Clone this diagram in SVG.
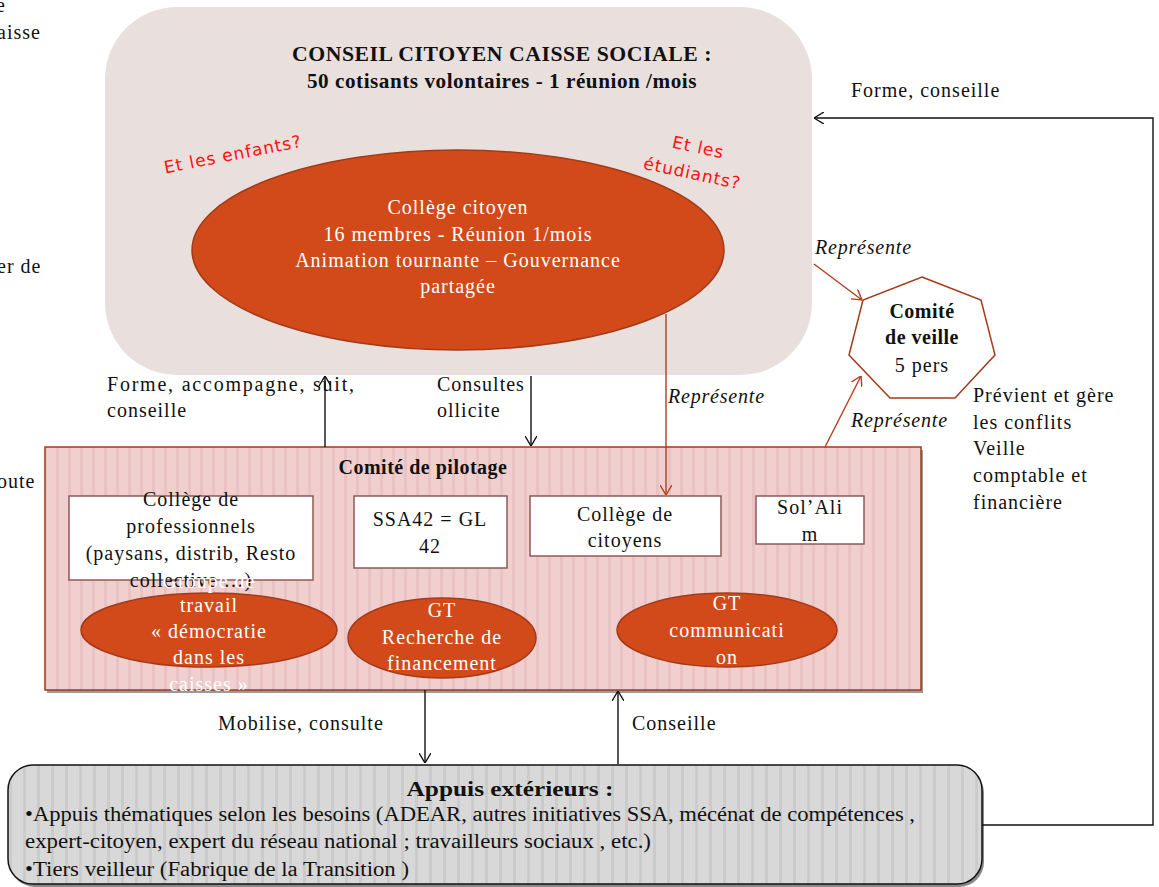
<svg xmlns="http://www.w3.org/2000/svg" width="1159" height="887" viewBox="0 0 1159 887">
<style>
text{font-family:"Liberation Serif","Times New Roman",serif;font-size:20px;letter-spacing:1px;fill:#111}
.b{font-weight:bold;letter-spacing:0.5px}
.i{font-style:italic;letter-spacing:0.8px}
.c{text-anchor:middle}
.w{fill:#fff}
.n{letter-spacing:0}
.hand{font-family:"DejaVu Sans","Comic Sans MS",sans-serif;font-size:17px;fill:#ff1010;letter-spacing:1px}
.box{fill:#fff;stroke:#8e5a55;stroke-width:1.5}
.ell{fill:#d24a19;stroke:#a33a1a;stroke-width:1.5}
.blk{fill:none;stroke:#111;stroke-width:1.4}
.red{fill:none;stroke:#b23e1c;stroke-width:1.4}
</style>
<defs>
<pattern id="pinkStripe" patternUnits="userSpaceOnUse" width="12" height="10">
<rect width="12" height="10" fill="#f2cfcf"/>
<rect x="8" width="3" height="10" fill="#e9c3c3"/>
</pattern>
<pattern id="grayStripe" patternUnits="userSpaceOnUse" width="14" height="10">
<rect width="14" height="10" fill="#d8d8d8"/>
<rect x="9" width="3" height="10" fill="#cbcbcb"/>
</pattern>
<marker id="arrB" viewBox="0 0 10 12" refX="10" refY="6" markerWidth="10" markerHeight="12" markerUnits="userSpaceOnUse" orient="auto">
<path d="M0,0 L10,6 L0,12" fill="none" stroke="#111" stroke-width="1.4"/>
</marker>
<marker id="arrR" viewBox="0 0 10 12" refX="10" refY="6" markerWidth="10" markerHeight="12" markerUnits="userSpaceOnUse" orient="auto">
<path d="M0,0 L10,6 L0,12" fill="none" stroke="#b23e1c" stroke-width="1.4"/>
</marker>
</defs>
<rect width="1159" height="887" fill="#fff"/>

<g id="edge-texts">
<text x="-4" y="12">e</text>
<text x="-3" y="39">aisse</text>
<text x="-3" y="273">er de</text>
<text x="-3" y="488">oute</text>
</g>

<g id="conseil">
<rect x="105" y="7" width="707" height="368" rx="72" ry="72" fill="#e9e0dd"/>
<text class="b c" x="502" y="61" textLength="420" lengthAdjust="spacingAndGlyphs">CONSEIL CITOYEN CAISSE SOCIALE :</text>
<text class="b c" x="502" y="88" textLength="390" lengthAdjust="spacingAndGlyphs">50 cotisants volontaires - 1 réunion /mois</text>
<text class="hand" transform="translate(234,160) rotate(-11)" text-anchor="middle">Et les enfants?</text>
<text class="hand" transform="translate(697,153) rotate(12)" text-anchor="middle">Et les</text>
<text class="hand" transform="translate(691,179) rotate(12)" text-anchor="middle">étudiants?</text>
</g>

<g id="college-citoyen">
<ellipse class="ell" cx="458" cy="250" rx="266" ry="100"/>
<text class="c w" x="458" y="214">Collège citoyen</text>
<text class="c w" x="458" y="241">16 membres  - Réunion 1/mois</text>
<text class="c w" x="458" y="267">Animation tournante – Gouvernance</text>
<text class="c w" x="458" y="293">partagée</text>
</g>

<g id="comite-veille">
<polygon points="922,277 981,300 995,355 955,398 890,398 849,355 863,300" fill="#fff" stroke="#a33a1a" stroke-width="1.5"/>
<text class="b c" x="922" y="318">Comité</text>
<text class="b c" x="922" y="344">de veille</text>
<text class="c" x="922" y="372">5 pers</text>
<text x="973" y="402">Prévient et gère</text>
<text x="973" y="429">les conflits</text>
<text x="973" y="455">Veille</text>
<text x="973" y="482">comptable et</text>
<text x="973" y="509">financière</text>
</g>

<g id="pilotage">
<rect x="47" y="450" width="876" height="243" fill="#9a9a9a"/>
<rect x="45" y="447" width="876" height="243" fill="url(#pinkStripe)" stroke="#a33a1a" stroke-width="1.5"/>
<text class="b c" x="423" y="474">Comité de pilotage</text>
</g>

<g id="college-pro">
<rect class="box" x="69" y="496" width="244" height="84"/>
<text class="c" x="191" y="506">Collège de</text>
<text class="c" x="191" y="533">professionnels</text>
<text class="c" x="191" y="560">(paysans, distrib, Resto</text>
<text class="c" x="191" y="587">collective …)</text>
</g>

<g id="ssa42">
<rect class="box" x="354" y="496" width="153" height="72"/>
<text class="c" x="430" y="526">SSA42 = GL</text>
<text class="c" x="430" y="553">42</text>
</g>

<g id="college-citoyens">
<rect class="box" x="530" y="496" width="191" height="60"/>
<text class="c" x="625" y="521">Collège de</text>
<text class="c" x="625" y="547">citoyens</text>
</g>

<g id="solalim">
<rect class="box" x="756" y="496" width="108" height="48"/>
<text class="c" x="810" y="514">Sol’Ali</text>
<text class="c" x="810" y="541">m</text>
</g>

<g id="gt-democratie">
<ellipse class="ell" cx="209" cy="630" rx="128" ry="37"/>
<text class="c w" x="209" y="588">Groupe de</text>
<text class="c w" x="209" y="612">travail</text>
<text class="c w" x="209" y="638">« démocratie</text>
<text class="c w" x="209" y="664">dans les</text>
<text class="c w" x="209" y="691">caisses »</text>
</g>

<g id="gt-financement">
<ellipse class="ell" cx="442" cy="638" rx="94" ry="40"/>
<text class="c w" x="442" y="617">GT</text>
<text class="c w" x="442" y="644">Recherche de</text>
<text class="c w" x="442" y="670">financement</text>
</g>

<g id="gt-communication">
<ellipse class="ell" cx="727" cy="630" rx="110" ry="37"/>
<text class="c w" x="727" y="610">GT</text>
<text class="c w" x="727" y="637">communicati</text>
<text class="c w" x="727" y="664">on</text>
</g>

<g id="appuis">
<rect x="10" y="768" width="974" height="119" rx="25" ry="25" fill="#8a8a8a"/>
<rect x="8" y="765" width="974" height="119" rx="25" ry="25" fill="url(#grayStripe)" stroke="#111" stroke-width="1.5"/>
<text class="b c n" x="510" y="796" textLength="207" lengthAdjust="spacingAndGlyphs">Appuis extérieurs :</text>
<text class="n" x="25" y="821" textLength="890" lengthAdjust="spacingAndGlyphs">•Appuis thématiques selon les besoins (ADEAR, autres initiatives SSA,  mécénat de compétences ,</text>
<text class="n" x="25" y="848" textLength="626" lengthAdjust="spacingAndGlyphs">expert-citoyen, expert du réseau national ;  travailleurs sociaux , etc.)</text>
<text class="n" x="25" y="876" textLength="384" lengthAdjust="spacingAndGlyphs">•Tiers veilleur (Fabrique de la Transition )</text>
</g>

<g id="connectors">
<line class="blk" x1="325" y1="447" x2="325" y2="376" marker-end="url(#arrB)"/>
<line class="blk" x1="531" y1="376" x2="531" y2="446" marker-end="url(#arrB)"/>
<line class="red" x1="666" y1="314" x2="666" y2="495" marker-end="url(#arrR)"/>
<line class="red" x1="814" y1="264" x2="862" y2="300" marker-end="url(#arrR)"/>
<line class="red" x1="825" y1="447" x2="861" y2="376" marker-end="url(#arrR)"/>
<line class="blk" x1="425" y1="690" x2="425" y2="763" marker-end="url(#arrB)"/>
<line class="blk" x1="618" y1="764" x2="618" y2="691" marker-end="url(#arrB)"/>
<polyline class="blk" points="982,825 1153,825 1153,118 814,118" marker-end="url(#arrB)"/>
<text x="107" y="391" textLength="248" lengthAdjust="spacing">Forme, accompagne, suit,</text>
<text x="107" y="417">conseille</text>
<text x="437" y="391">Consultes</text>
<text x="437" y="417">ollicite</text>
<text class="i" x="668" y="403">Représente</text>
<text class="i" x="815" y="254">Représente</text>
<text class="i" x="851" y="427">Représente</text>
<text x="851" y="97">Forme, conseille</text>
<text x="218" y="730">Mobilise, consulte</text>
<text x="632" y="730">Conseille</text>
</g>
</svg>
